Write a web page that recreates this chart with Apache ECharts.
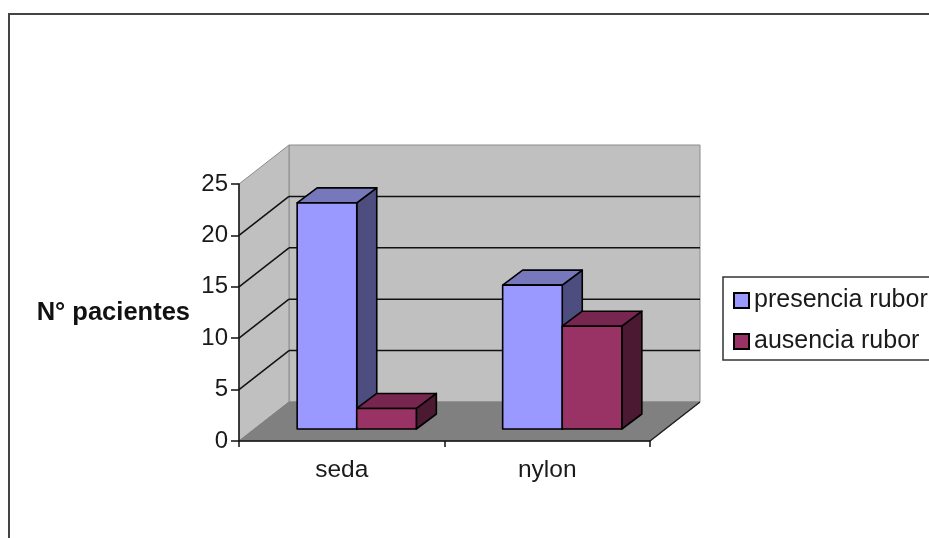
<!DOCTYPE html>
<html>
<head>
<meta charset="utf-8">
<style>html,body{margin:0;padding:0;background:#fff}#c{width:929px;height:538px}</style>
<script src="https://cdn.jsdelivr.net/npm/echarts@6/dist/echarts.min.js"></script>
</head>
<body>
<div id="c"></div>
<script>
const categories = ['seda', 'nylon'];
const presencia = [22, 14];
const ausencia = [2, 10];
const yTicks = [5, 10, 15, 20];

// Oblique projection used for the pseudo-3D box and the bars
const BOX = { dx: 50, dy: -39 };
const FRONT = { dx: 15, dy: -12 };
const BAR = { dx: 20, dy: -15, ratio: 0.29 };

function wallsItem(params, api) {
  const cs = params.coordSys;
  const l = cs.x, r = cs.x + cs.width, t = cs.y, b = cs.y + cs.height;
  const d = BOX;
  const poly = (pts, fill, stroke) => ({
    type: 'polygon', shape: { points: pts },
    style: { fill, stroke: stroke || fill, lineWidth: 1 }
  });
  const line = (x1, y1, x2, y2, color, w) => ({
    type: 'line', shape: { x1, y1, x2, y2 },
    style: { stroke: color, lineWidth: w || 1.5 }
  });
  const kids = [
    poly([[l + d.dx, t + d.dy], [r + d.dx, t + d.dy], [r + d.dx, b + d.dy], [l + d.dx, b + d.dy]], '#c0c0c0', '#8c8c8c'),
    poly([[l, t], [l + d.dx, t + d.dy], [l + d.dx, b + d.dy], [l, b]], '#c0c0c0', '#8c8c8c'),
    poly([[l, b], [r, b], [r + d.dx, b + d.dy], [l + d.dx, b + d.dy]], '#808080')
  ];
  yTicks.forEach(v => {
    const y = api.coord([0, v])[1];
    kids.push(line(l, y, l + d.dx, y + d.dy, '#111'));
    kids.push(line(l + d.dx, y + d.dy, r + d.dx, y + d.dy, '#111'));
  });
  kids.push(line(r, b, r + d.dx, b + d.dy, '#222'));
  return { type: 'group', children: kids };
}

// Draws one bar as front, top and side faces; slot is -1 or 0 inside the category
function barItem(slot, top, side) {
  return function (params, api) {
    const cat = api.value(0), val = api.value(1);
    const band = api.size([1, 0])[0];
    const w = band * BAR.ratio;
    const cx = api.coord([cat, 0])[0] + FRONT.dx;
    const x0 = cx + slot * w, x1 = x0 + w;
    const yb = api.coord([cat, 0])[1] + FRONT.dy;
    const yt = api.coord([cat, val])[1] + FRONT.dy;
    const dx = BAR.dx, dy = BAR.dy;
    const edge = { stroke: '#000', lineWidth: 1.6, lineJoin: 'round' };
    return {
      type: 'group',
      children: [
        { type: 'polygon', shape: { points: [[x1, yt], [x1 + dx, yt + dy], [x1 + dx, yb + dy], [x1, yb]] }, style: { fill: side, ...edge } },
        { type: 'polygon', shape: { points: [[x0, yt], [x0 + dx, yt + dy], [x1 + dx, yt + dy], [x1, yt]] }, style: { fill: top, ...edge } },
        { type: 'rect', shape: { x: x0, y: yt, width: w, height: yb - yt }, style: { fill: api.visual('color'), ...edge } }
      ]
    };
  };
}

const chart = echarts.init(document.getElementById('c'), null, { renderer: 'canvas' });

chart.setOption({
  animation: false,
  backgroundColor: '#ffffff',
  graphic: [{
    type: 'rect', silent: true, z: 0,
    shape: { x: 9, y: 14, width: 1200, height: 900 },
    style: { fill: 'none', stroke: '#444', lineWidth: 2 }
  }],
  grid: { left: 239, right: 279, top: 184, bottom: 97 },
  legend: {
    left: 723, top: 277,
    orient: 'vertical',
    data: [{ name: 'presencia rubor', icon: 'rect' }, { name: 'ausencia rubor', icon: 'rect' }],
    itemWidth: 15, itemHeight: 15, itemGap: 16,
    padding: [11, 30, 6, 10],
    borderColor: '#333', borderWidth: 1.5, backgroundColor: '#fff',
    selectedMode: false,
    textStyle: { fontFamily: 'Liberation Sans', fontSize: 25, color: '#1a1a1a' }
  },
  xAxis: {
    type: 'category', data: categories, z: 5,
    axisLine: { lineStyle: { color: '#111', width: 1.5 } },
    axisTick: { show: true, length: 6, lineStyle: { color: '#111', width: 1.5 } },
    axisLabel: { fontFamily: 'Liberation Sans', color: '#1a1a1a', fontSize: 24.5, margin: 17 }
  },
  yAxis: {
    type: 'value', min: 0, max: 25, interval: 5, z: 5,
    name: 'N° pacientes', nameLocation: 'middle', nameRotate: 0, nameGap: 49,
    nameTextStyle: { fontFamily: 'Liberation Sans', fontWeight: 'bold', fontSize: 25.5, color: '#111', align: 'right', verticalAlign: 'middle', padding: [2, 0, 0, 0] },
    axisLine: { show: true, lineStyle: { color: '#111', width: 1.5 } },
    axisTick: { show: true, length: 8, lineStyle: { color: '#111', width: 1.5 } },
    axisLabel: { fontFamily: 'Liberation Sans', color: '#1a1a1a', fontSize: 24, margin: 11 },
    splitLine: { show: false }
  },
  series: [
    { type: 'custom', name: 'box', data: [[0, 0]], renderItem: wallsItem, silent: true, z: 1, encode: { x: 0, y: 1 } },
    {
      type: 'custom', name: 'presencia rubor', z: 10,
      data: presencia.map((v, i) => [i, v]), encode: { x: 0, y: 1 },
      itemStyle: { color: '#9999ff', borderColor: '#000', borderWidth: 1.6 },
      renderItem: barItem(-1, '#7777bb', '#4d4d80')
    },
    {
      type: 'custom', name: 'ausencia rubor', z: 11,
      data: ausencia.map((v, i) => [i, v]), encode: { x: 0, y: 1 },
      itemStyle: { color: '#993366', borderColor: '#000', borderWidth: 1.6 },
      renderItem: barItem(0, '#77264f', '#4c1933')
    }
  ]
});
</script>
</body>
</html>
